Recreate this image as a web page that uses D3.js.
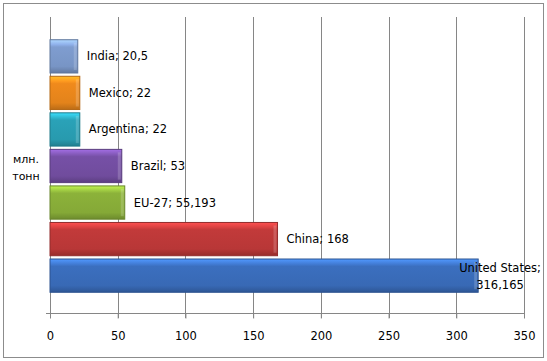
<!DOCTYPE html>
<html>
<head>
<meta charset="utf-8">
<script src="https://cdn.jsdelivr.net/npm/d3@7"></script>
<style>
  body { margin: 0; background: #fff; }
  text { font-family: "DejaVu Sans", sans-serif; fill: #000; }
</style>
</head>
<body>
<svg width="547" height="361"></svg>
<script>
// data, top to bottom as drawn
var countries = ["India", "Mexico", "Argentina", "Brazil", "EU-27", "China", "United States"];
var values = [20.5, 22, 22, 53, 55.193, 168, 316.165];
var valueLabels = ["20,5", "22", "22", "53", "55,193", "168", "316,165"];
var colors = ["#7f9dd0", "#f08a1c", "#2aa2b8", "#7650a6", "#8cb23a", "#c23a3a", "#3b6fbf"];
var ticks = [0, 50, 100, 150, 200, 250, 300, 350];

var svg = d3.select("svg");

// outer frame
svg.append("rect")
    .attr("x", 3.5).attr("y", 3.5)
    .attr("width", 540).attr("height", 354)
    .attr("fill", "#fff")
    .attr("stroke", "#8c8c8c");

var x = d3.scaleLinear().domain([0, 350]).range([50, 524]);
var y = d3.scaleBand().domain(countries).range([39, 293]).paddingInner(0.09).paddingOuter(0.02);

var plotTop = 17, plotBottom = 313;

// gridlines
svg.append("g").selectAll("line")
    .data(ticks)
  .enter().append("line")
    .attr("x1", function(d) { return Math.round(x(d)) + 0.5; })
    .attr("x2", function(d) { return Math.round(x(d)) + 0.5; })
    .attr("y1", plotTop)
    .attr("y2", plotBottom + 5)
    .attr("stroke", "#868686");

// x axis
var xAxis = svg.append("g")
    .attr("transform", "translate(0," + (plotBottom + 0.5) + ")")
    .call(d3.axisBottom(x).tickValues(ticks).tickSize(5).tickPadding(13).tickSizeOuter(0));
xAxis.select(".domain").attr("stroke", "#868686").attr("d", "M" + (x(0) - 4) + ",0H" + x(350));
xAxis.selectAll(".tick line").attr("stroke", "#868686");
xAxis.selectAll(".tick text")
    .text(function(d) { return d; })
    .style("font-family", "DejaVu Sans, sans-serif")
    .style("font-size", "11.5px");

// gradients for the bevelled bars
var defs = svg.append("defs");
colors.forEach(function(c, i) {
  var base = d3.color(c);
  var grad = defs.append("linearGradient")
      .attr("id", "g" + i)
      .attr("x1", 0).attr("y1", 0).attr("x2", 0).attr("y2", 1);
  grad.append("stop").attr("offset", "0%").attr("stop-color", base.brighter(0.9));
  grad.append("stop").attr("offset", "14%").attr("stop-color", base.brighter(0.35));
  grad.append("stop").attr("offset", "22%").attr("stop-color", base);
  grad.append("stop").attr("offset", "80%").attr("stop-color", base.darker(0.15));
  grad.append("stop").attr("offset", "100%").attr("stop-color", base.darker(0.7));
});

var bars = svg.append("g").selectAll("g")
    .data(countries)
  .enter().append("g");

bars.append("rect")
    .attr("x", x(0))
    .attr("y", function(d) { return y(d); })
    .attr("width", function(d, i) { return x(values[i]) - x(0); })
    .attr("height", y.bandwidth())
    .attr("fill", function(d, i) { return "url(#g" + i + ")"; })
    .attr("stroke", function(d, i) { return d3.color(colors[i]).darker(0.8); })
    .attr("stroke-width", 1);

// light end cap
bars.append("rect")
    .attr("x", function(d, i) { return x(values[i]) - 4; })
    .attr("y", function(d) { return y(d) + 3; })
    .attr("width", 3)
    .attr("height", y.bandwidth() - 6)
    .attr("fill", "#fff")
    .attr("opacity", 0.18);

// labels
bars.each(function(d, i) {
  var t = d3.select(this).append("text").style("font-size", "11.5px");
  var cy = y(d) + y.bandwidth() / 2;
  if (i === countries.length - 1) {
    t.attr("text-anchor", "middle");
    t.append("tspan").attr("x", 500).attr("y", cy - 4).text(d + ";");
    t.append("tspan").attr("x", 500).attr("y", cy + 13).text(valueLabels[i]);
  } else {
    t.attr("x", x(values[i]) + 9)
     .attr("y", cy + 4)
     .text(d + "; " + valueLabels[i]);
  }
});

// unit label
var unit = svg.append("text").attr("text-anchor", "middle").style("font-size", "11px");
unit.append("tspan").attr("x", 26).attr("y", 163).text("млн.");
unit.append("tspan").attr("x", 26).attr("y", 180).text("тонн");
</script>
</body>
</html>
